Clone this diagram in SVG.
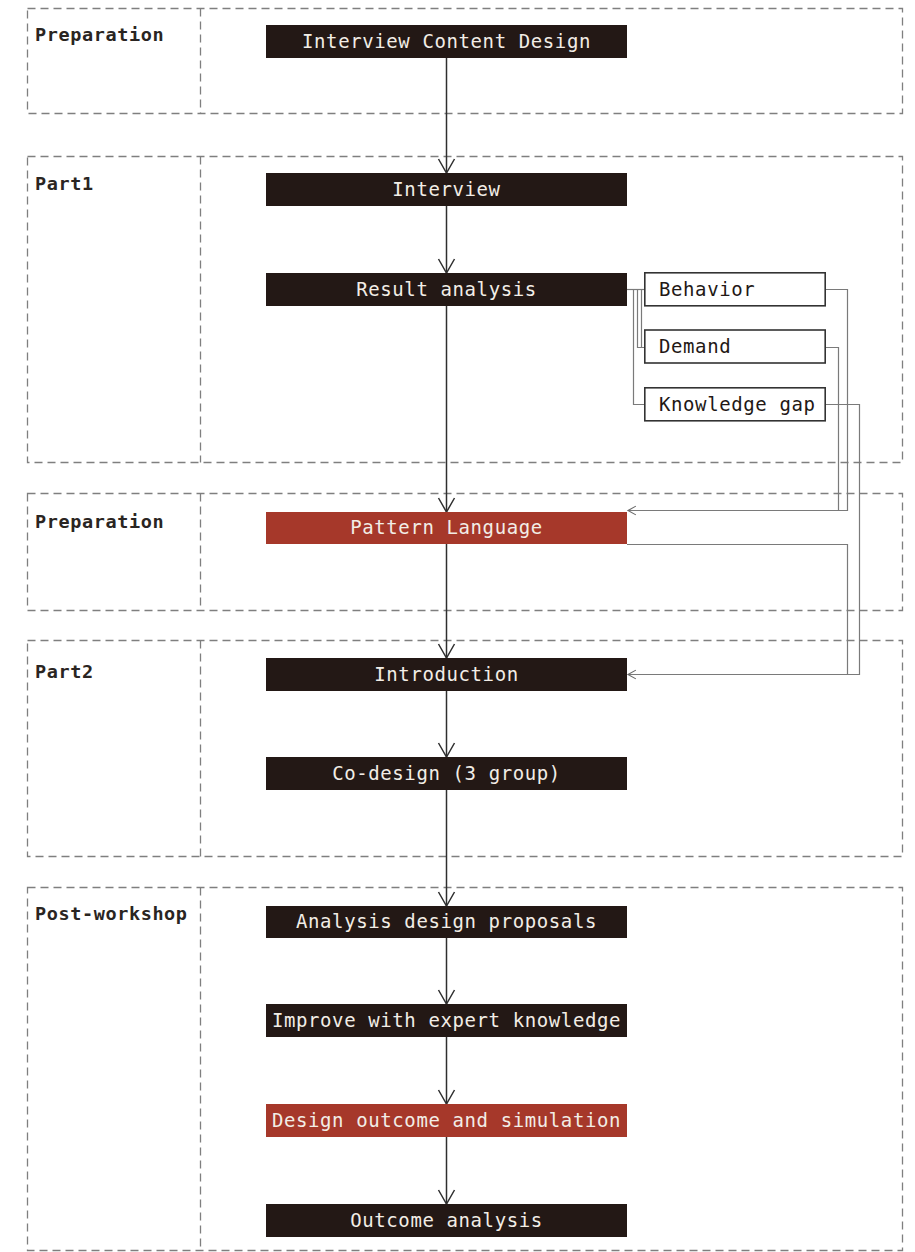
<svg xmlns="http://www.w3.org/2000/svg" width="915" height="1252" viewBox="0 0 915 1252">
  <style>
    .lane { fill: none; stroke: #7f7f7f; stroke-width: 1.3; stroke-dasharray: 8 5; }
    .lane-label { font-family: "DejaVu Sans Mono", "Liberation Mono", monospace; font-weight: bold; font-size: 18.5px; letter-spacing: 0.6px; fill: #2a2522; }
    .step { fill: #231815; }
    .step-hi { fill: #a6382a; }
    .step-text { font-family: "DejaVu Sans Mono", "Liberation Mono", monospace; font-size: 19px; letter-spacing: 0.6px; fill: #f2ede6; text-anchor: middle; }
    .tag { fill: #ffffff; stroke: #333333; stroke-width: 1.6; }
    .tag-text { font-family: "DejaVu Sans Mono", "Liberation Mono", monospace; font-size: 19px; letter-spacing: 0.6px; fill: #231815; }
    .flow { fill: none; stroke: #2f2f2f; stroke-width: 1.5; }
    .link { fill: none; stroke: #7a7a7a; stroke-width: 1.2; }
  </style>
  <defs>
    <marker id="vhead" viewBox="0 0 20 20" refX="16" refY="10" markerWidth="20" markerHeight="20" markerUnits="userSpaceOnUse" orient="auto">
      <path d="M2,2 L16,10 L2,18" fill="none" stroke="#2f2f2f" stroke-width="1.5"/>
    </marker>
    <marker id="thead" viewBox="0 0 16 16" refX="13" refY="8" markerWidth="14" markerHeight="14" markerUnits="userSpaceOnUse" orient="auto">
      <path d="M4,3 L13,8 L4,13" fill="none" stroke="#6a6a6a" stroke-width="1.3"/>
    </marker>
  </defs>

  <rect width="915" height="1252" fill="#ffffff"/>

  <!-- swimlanes -->
  <g id="lanes">
    <g id="lane-prep1">
      <rect class="lane" x="27.5" y="8.5" width="875" height="105"/>
      <line class="lane" x1="200.5" y1="8.5" x2="200.5" y2="113.5"/>
      <text class="lane-label" x="35" y="41">Preparation</text>
    </g>
    <g id="lane-part1">
      <rect class="lane" x="27.5" y="156.5" width="875" height="306"/>
      <line class="lane" x1="200.5" y1="156.5" x2="200.5" y2="462.5"/>
      <text class="lane-label" x="35" y="190">Part1</text>
    </g>
    <g id="lane-prep2">
      <rect class="lane" x="27.5" y="493.5" width="875" height="117"/>
      <line class="lane" x1="200.5" y1="493.5" x2="200.5" y2="610.5"/>
      <text class="lane-label" x="35" y="528">Preparation</text>
    </g>
    <g id="lane-part2">
      <rect class="lane" x="27.5" y="640.5" width="875" height="216"/>
      <line class="lane" x1="200.5" y1="640.5" x2="200.5" y2="856.5"/>
      <text class="lane-label" x="35" y="678">Part2</text>
    </g>
    <g id="lane-post">
      <rect class="lane" x="27.5" y="887.5" width="875" height="363"/>
      <line class="lane" x1="200.5" y1="887.5" x2="200.5" y2="1250.5"/>
      <text class="lane-label" x="35" y="920">Post-workshop</text>
    </g>
  </g>

  <!-- connectors -->
  <g id="connectors">
    <line class="flow" x1="446.5" y1="58" x2="446.5" y2="173" marker-end="url(#vhead)"/>
    <line class="flow" x1="446.5" y1="206" x2="446.5" y2="273" marker-end="url(#vhead)"/>
    <line class="flow" x1="446.5" y1="306" x2="446.5" y2="512" marker-end="url(#vhead)"/>
    <line class="flow" x1="446.5" y1="544" x2="446.5" y2="658" marker-end="url(#vhead)"/>
    <line class="flow" x1="446.5" y1="691" x2="446.5" y2="757" marker-end="url(#vhead)"/>
    <line class="flow" x1="446.5" y1="790" x2="446.5" y2="906" marker-end="url(#vhead)"/>
    <line class="flow" x1="446.5" y1="938" x2="446.5" y2="1004" marker-end="url(#vhead)"/>
    <line class="flow" x1="446.5" y1="1037" x2="446.5" y2="1104" marker-end="url(#vhead)"/>
    <line class="flow" x1="446.5" y1="1137" x2="446.5" y2="1204" marker-end="url(#vhead)"/>

    <!-- result analysis to its three facets -->
    <path class="link" d="M627,289.5 H644"/>
    <path class="link" d="M633.5,289.5 V404.5 H644"/>
    <path class="link" d="M637.5,289.5 V347.5 H644"/>
    <path class="link" d="M641.5,289.5 V347.5 H644"/>

    <!-- facets feeding the pattern language and the introduction -->
    <path class="link" d="M826,289.5 H847.5 V510.5 H628" marker-end="url(#thead)"/>
    <path class="link" d="M826,347.5 H838.5 V510.5"/>
    <path class="link" d="M826,404.5 H859.5 V674.5 H628" marker-end="url(#thead)"/>
    <path class="link" d="M627,544.5 H847.5 V674.5"/>
  </g>

  <!-- steps -->
  <g id="node-content-design">
    <rect class="step" x="266" y="25" width="361" height="33"/>
    <text class="step-text" x="446.5" y="48">Interview Content Design</text>
  </g>
  <g id="node-interview">
    <rect class="step" x="266" y="173" width="361" height="33"/>
    <text class="step-text" x="446.5" y="196">Interview</text>
  </g>
  <g id="node-result-analysis">
    <rect class="step" x="266" y="273" width="361" height="33"/>
    <text class="step-text" x="446.5" y="296">Result analysis</text>
  </g>
  <g id="node-behavior">
    <rect class="tag" x="644.8" y="272.8" width="180.4" height="33"/>
    <text class="tag-text" x="659" y="296">Behavior</text>
  </g>
  <g id="node-demand">
    <rect class="tag" x="644.8" y="330" width="180.4" height="33"/>
    <text class="tag-text" x="659" y="353">Demand</text>
  </g>
  <g id="node-knowledge-gap">
    <rect class="tag" x="644.8" y="387.8" width="180.4" height="33"/>
    <text class="tag-text" x="659" y="411">Knowledge gap</text>
  </g>
  <g id="node-pattern-language">
    <rect class="step-hi" x="266" y="512" width="361" height="32"/>
    <text class="step-text" x="446.5" y="534">Pattern Language</text>
  </g>
  <g id="node-introduction">
    <rect class="step" x="266" y="658" width="361" height="33"/>
    <text class="step-text" x="446.5" y="681">Introduction</text>
  </g>
  <g id="node-co-design">
    <rect class="step" x="266" y="757" width="361" height="33"/>
    <text class="step-text" x="446.5" y="780">Co-design (3 group)</text>
  </g>
  <g id="node-analysis-proposals">
    <rect class="step" x="266" y="906" width="361" height="32"/>
    <text class="step-text" x="446.5" y="928">Analysis design proposals</text>
  </g>
  <g id="node-expert-knowledge">
    <rect class="step" x="266" y="1004" width="361" height="33"/>
    <text class="step-text" x="446.5" y="1027">Improve with expert knowledge</text>
  </g>
  <g id="node-design-outcome">
    <rect class="step-hi" x="266" y="1104" width="361" height="33"/>
    <text class="step-text" x="446.5" y="1127">Design outcome and simulation</text>
  </g>
  <g id="node-outcome-analysis">
    <rect class="step" x="266" y="1204" width="361" height="33"/>
    <text class="step-text" x="446.5" y="1227">Outcome analysis</text>
  </g>
</svg>
